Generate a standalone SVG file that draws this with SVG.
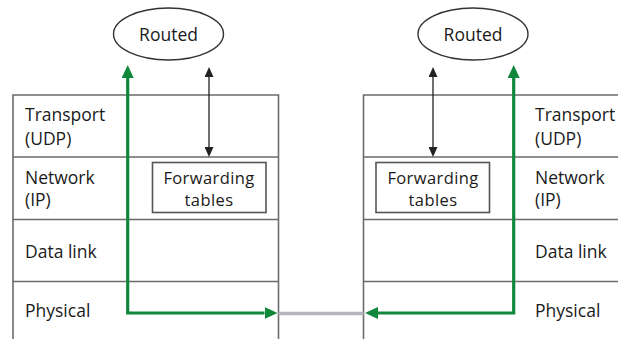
<svg xmlns="http://www.w3.org/2000/svg" width="618" height="339" viewBox="0 0 618 339">
<style>
text{font-family:"Open Sans","Noto Sans","Liberation Sans",sans-serif;font-size:17.5px;fill:#1a1a1a}
.c{text-anchor:middle}
.bt{font-size:16.5px;letter-spacing:0.4px}
.frame{fill:none;stroke:#6b6b6b;stroke-width:1.6}
.box{fill:#fff;stroke:#555;stroke-width:1.6}
.ell{fill:#fff;stroke:#333;stroke-width:1.4}
.green{fill:none;stroke:#10873a;stroke-width:3.2;stroke-linejoin:miter}
.black{fill:none;stroke:#222;stroke-width:1.3}
.wire{fill:none;stroke:#b4b4bc;stroke-width:3.5}
</style>
<defs>
<marker id="ga" markerUnits="userSpaceOnUse" markerWidth="13" markerHeight="12" refX="0" refY="6" orient="auto-start-reverse" viewBox="0 0 13 12"><path d="M0,0 L13,6 L0,12 z" fill="#10873a"/></marker>
<marker id="ba" markerUnits="userSpaceOnUse" markerWidth="10" markerHeight="9" refX="0" refY="4.5" orient="auto-start-reverse" viewBox="0 0 10 9"><path d="M0,0 L10,4.5 L0,9 z" fill="#222"/></marker>
</defs>
<g id="left-stack">
<path class="frame" d="M13,339 V95 H278.5 V339 M13,157 H278.5 M13,219.5 H278.5 M13,281.5 H278.5"/>
<text x="25" y="120.5">Transport</text>
<text x="25" y="145">(UDP)</text>
<text x="25" y="184">Network</text>
<text x="25" y="206">(IP)</text>
<text x="25" y="258">Data link</text>
<text x="25" y="317">Physical</text>
</g>
<g id="right-stack">
<path class="frame" d="M363.5,339 V95 H618 M363.5,157 H618 M363.5,219.5 H618 M363.5,281.5 H618"/>
<text x="535" y="120.5">Transport</text>
<text x="535" y="145">(UDP)</text>
<text x="535" y="184">Network</text>
<text x="535" y="206">(IP)</text>
<text x="535" y="258">Data link</text>
<text x="535" y="317">Physical</text>
</g>
<g id="routed-left">
<ellipse class="ell" cx="168.5" cy="34" rx="55" ry="26"/>
<text class="c" x="168.5" y="41">Routed</text>
</g>
<g id="routed-right">
<ellipse class="ell" cx="473" cy="34" rx="55" ry="26"/>
<text class="c" x="473" y="41">Routed</text>
</g>
<g id="fwd-left">
<rect class="box" x="152.5" y="162.5" width="113.5" height="50"/>
<text class="c bt" x="209" y="183.5">Forwarding</text>
<text class="c bt" x="209" y="206">tables</text>
</g>
<g id="fwd-right">
<rect class="box" x="376" y="162.5" width="113.5" height="50"/>
<text class="c bt" x="433" y="183.5">Forwarding</text>
<text class="c bt" x="433" y="206">tables</text>
</g>
<g id="connectors">
<path class="wire" d="M278.5,313.5 H363.5"/>
<path class="green" d="M127.7,78 V313 H264.5" marker-start="url(#ga)" marker-end="url(#ga)"/>
<path class="green" d="M513.7,78 V313 H378" marker-start="url(#ga)" marker-end="url(#ga)"/>
<path class="black" d="M209,77 V147" marker-start="url(#ba)" marker-end="url(#ba)"/>
<path class="black" d="M433,77 V147" marker-start="url(#ba)" marker-end="url(#ba)"/>
</g>
</svg>
